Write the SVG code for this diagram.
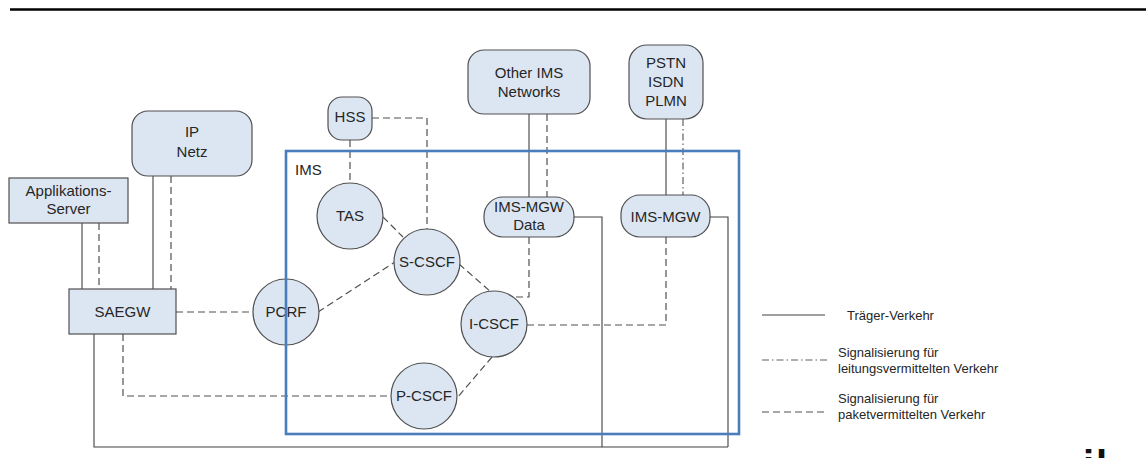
<svg xmlns="http://www.w3.org/2000/svg" width="1146" height="458" viewBox="0 0 1146 458">
<style>
.n{fill:#dce6f2;stroke:#505050;stroke-width:1.2}
.t{font-family:"Liberation Sans",Arial,sans-serif;font-size:15px;fill:#262626;text-anchor:middle}
.lg{font-family:"Liberation Sans",Arial,sans-serif;font-size:13px;fill:#262626}
.s{fill:none;stroke:#404040;stroke-width:1.1}
.d{fill:none;stroke:#505050;stroke-width:1.2;stroke-dasharray:7,4}
.dd{fill:none;stroke:#606060;stroke-width:1.2;stroke-dasharray:7,3,1.5,3}
</style>
<rect width="1146" height="458" fill="#ffffff"/>
<line x1="10" y1="9.5" x2="1146" y2="9.5" stroke="#000" stroke-width="2.6"/>
<g id="connectors">
<line class="s" x1="82" y1="223" x2="82" y2="289"/>
<line class="d" x1="99" y1="223" x2="99" y2="289"/>
<line class="s" x1="153" y1="176" x2="153" y2="289"/>
<line class="d" x1="171" y1="176" x2="171" y2="289"/>
<line class="d" x1="176" y1="312" x2="253" y2="312"/>
<polyline class="d" points="123,334 123,396 391,396"/>
<polyline class="s" points="94,334 94,447 728,447"/>
<line class="d" x1="350" y1="140" x2="350" y2="182"/>
<polyline class="d" points="372,118 427,118 427,229"/>
<line class="d" x1="383" y1="217" x2="403" y2="237"/>
<line class="d" x1="318" y1="312" x2="395" y2="262"/>
<line class="d" x1="459" y1="264" x2="491" y2="292"/>
<line class="d" x1="492" y1="357" x2="457" y2="398"/>
<line class="s" x1="529" y1="114" x2="529" y2="197"/>
<line class="d" x1="547" y1="114" x2="547" y2="197"/>
<polyline class="d" points="529,237 529,297 513,297"/>
<polyline class="s" points="574,217 602,217 602,447"/>
<line class="s" x1="666" y1="119" x2="666" y2="195"/>
<line class="dd" x1="683" y1="119" x2="683" y2="195"/>
<polyline class="d" points="527,325 666,325 666,237"/>
<polyline class="s" points="710,217 728,217 728,447"/>
</g>
<g id="as"><rect class="n" x="9" y="178" width="119" height="45"/><text class="t" x="68.5" y="196">Applikations-</text><text class="t" x="68.5" y="214">Server</text></g>
<g id="ipnetz"><rect class="n" x="132" y="111" width="120" height="65" rx="16"/><text class="t" x="192" y="137">IP</text><text class="t" x="192" y="157">Netz</text></g>
<g id="saegw"><rect class="n" x="69" y="289" width="107" height="45"/><text class="t" x="122.5" y="317">SAEGW</text></g>
<g id="hss"><rect class="n" x="328" y="97" width="44" height="43" rx="14"/><text class="t" x="350" y="122">HSS</text></g>
<g id="tas"><circle class="n" cx="350" cy="216" r="33"/><text class="t" x="350" y="221">TAS</text></g>
<g id="scscf"><circle class="n" cx="427" cy="262" r="33"/><text class="t" x="427" y="267">S-CSCF</text></g>
<g id="pcrf"><circle class="n" cx="286" cy="312" r="33"/><text class="t" x="286" y="317">PCRF</text></g>
<g id="icscf"><circle class="n" cx="494" cy="324" r="33"/><text class="t" x="494" y="329">I-CSCF</text></g>
<g id="pcscf"><circle class="n" cx="424" cy="396" r="33"/><text class="t" x="424" y="401">P-CSCF</text></g>
<g id="otherims"><rect class="n" x="468" y="50" width="122" height="64" rx="16"/><text class="t" x="529" y="78">Other IMS</text><text class="t" x="529" y="97">Networks</text></g>
<g id="mgwdata"><rect class="n" x="484" y="197" width="90" height="40" rx="19"/><text class="t" x="529" y="212">IMS-MGW</text><text class="t" x="529" y="230">Data</text></g>
<g id="pstn"><rect class="n" x="629" y="45" width="74" height="74" rx="18"/><text class="t" x="666" y="68">PSTN</text><text class="t" x="666" y="87">ISDN</text><text class="t" x="666" y="106">PLMN</text></g>
<g id="mgw"><rect class="n" x="621" y="195" width="89" height="42" rx="19"/><text class="t" x="665.5" y="222">IMS-MGW</text></g>
<g id="ims"><rect x="286" y="151" width="453" height="283" fill="none" stroke="#4a7ebb" stroke-width="2.6"/><text class="t" x="295" y="175" style="text-anchor:start">IMS</text></g>
<g id="legend">
<line class="s" x1="762" y1="315" x2="825" y2="315"/>
<text class="lg" x="847" y="320">Träger-Verkehr</text>
<line class="dd" x1="762" y1="360" x2="828" y2="360"/>
<text class="lg" x="838" y="357">Signalisierung für</text>
<text class="lg" x="838" y="373">leitungsvermittelten Verkehr</text>
<line class="d" x1="762" y1="412" x2="828" y2="412"/>
<text class="lg" x="838" y="403">Signalisierung für</text>
<text class="lg" x="838" y="419">paketvermittelten Verkehr</text>
</g>
<text x="1083" y="478.5" font-family="'Liberation Sans',Arial,sans-serif" font-weight="bold" font-size="40" letter-spacing="2" fill="#111">il</text>
</svg>
